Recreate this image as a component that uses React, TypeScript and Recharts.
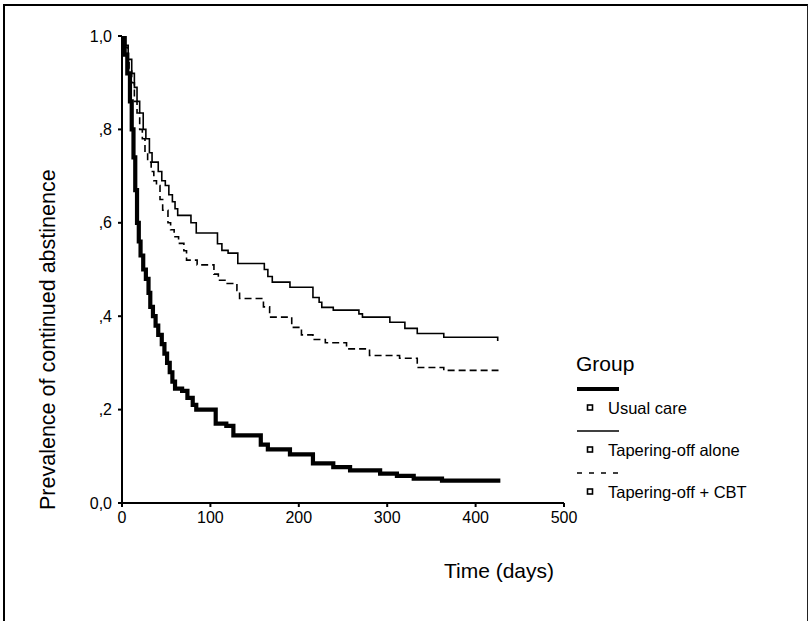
import React from "react";
import { LineChart, Line, XAxis, YAxis, Legend, Label } from "recharts";

// ---- data ----
const xTicks = [0, 100, 200, 300, 400, 500];
const yTicks = [0, 0.2, 0.4, 0.6, 0.8, 1.0];
const yTickLabels = ["0,0", ",2", ",4", ",6", ",8", "1,0"];

const groupNames = ["Usual care", "Tapering-off alone", "Tapering-off + CBT"];

const usualCareT = [0, 3, 6, 9, 11, 13, 15, 17, 19, 21, 24, 27, 30, 32, 35, 38, 41, 45, 48, 51, 54, 57, 60, 68, 74, 80, 84, 106, 118, 126, 157, 165, 190, 216, 239, 258, 292, 311, 330, 362, 428];
const usualCareV = [1.0, 0.96, 0.92, 0.86, 0.8, 0.74, 0.67, 0.6, 0.56, 0.53, 0.5, 0.48, 0.45, 0.42, 0.4, 0.38, 0.36, 0.34, 0.32, 0.3, 0.28, 0.26, 0.245, 0.24, 0.225, 0.21, 0.2, 0.17, 0.165, 0.145, 0.125, 0.115, 0.104, 0.085, 0.077, 0.07, 0.063, 0.058, 0.052, 0.048, 0.048];

const taperT = [0, 4, 7, 11, 14, 17, 20, 24, 27, 31, 34, 41, 45, 49, 53, 57, 60, 63, 78, 84, 108, 113, 120, 131, 161, 165, 170, 190, 216, 223, 226, 239, 268, 272, 303, 320, 334, 364, 425];
const taperV = [1.0, 0.98, 0.95, 0.92, 0.89, 0.86, 0.835, 0.8, 0.78, 0.75, 0.73, 0.71, 0.69, 0.68, 0.66, 0.645, 0.63, 0.616, 0.6, 0.578, 0.555, 0.541, 0.535, 0.513, 0.5, 0.485, 0.473, 0.462, 0.44, 0.43, 0.419, 0.413, 0.405, 0.398, 0.387, 0.374, 0.363, 0.355, 0.347];

const cbtT = [0, 3, 6, 8, 11, 14, 17, 20, 23, 26, 29, 33, 36, 39, 43, 46, 52, 55, 59, 64, 70, 73, 85, 104, 109, 119, 130, 133, 160, 167, 192, 203, 216, 230, 254, 280, 314, 334, 364, 425];
const cbtV = [1.0, 0.976, 0.95, 0.93, 0.9, 0.86, 0.835, 0.8, 0.78, 0.75, 0.73, 0.71, 0.69, 0.68, 0.65, 0.627, 0.6, 0.585, 0.57, 0.556, 0.54, 0.52, 0.51, 0.49, 0.477, 0.47, 0.455, 0.438, 0.42, 0.398, 0.376, 0.36, 0.35, 0.343, 0.33, 0.316, 0.31, 0.29, 0.284, 0.276];

const toRows = (ts: number[], vs: number[]) => ts.map((t, i) => ({ t, v: vs[i] }));
const usualCare = toRows(usualCareT, usualCareV);
const taper = toRows(taperT, taperV);
const cbt = toRows(cbtT, cbtV);

const FONT = "'Liberation Sans', Arial, Helvetica, sans-serif";

const seriesStyles = [
  { width: 4.2, dash: undefined as string | undefined },
  { width: 1.6, dash: undefined as string | undefined },
  { width: 1.6, dash: "7 4" },
];

const LegendBox = () => (
  <svg width={240} height={160} style={{ fontFamily: FONT, display: "block" }}>
    <text x={6} y={21} fontSize={21} fill="#000">Group</text>
    {groupNames.map((name, i) => {
      const base = 39 + i * 42;
      const st = seriesStyles[i];
      return (
        <g key={name}>
          <line x1={7} x2={49} y1={base} y2={base} stroke="#000" strokeWidth={i === 0 ? 4 : 1.6}
            strokeDasharray={i === 2 ? "5 7" : undefined} />
          <rect x={17.5} y={base + 16} width={5} height={5} fill="#fff" stroke="#000" strokeWidth={1.6} />
          <text x={38} y={base + 25} fontSize={16.5} fill="#000">{name}</text>
        </g>
      );
    })}
  </svg>
);

const YTitle = () => (
  <text x={55} y={510} transform="rotate(-90 55 510)" textAnchor="start" fontSize={21.5}
    fontFamily={FONT} fill="#000">Prevalence of continued abstinence</text>
);

const XTitle = () => (
  <text x={499} y={578} textAnchor="middle" fontSize={21} fontFamily={FONT} fill="#000">Time (days)</text>
);

export default function App() {
  return (
    <div style={{ position: "absolute", left: 0, top: 0, width: 811, height: 621, background: "#fff" }}>
      <div style={{ position: "absolute", left: 3, top: 4, width: 802, height: 640,
        borderLeft: "2px solid #000", borderTop: "2px solid #000", borderRight: "1.5px solid #222" }} />
      <LineChart width={811} height={621} margin={{ top: 36, right: 247, left: 62, bottom: 88 }}
        style={{ fontFamily: FONT }}>
        <XAxis dataKey="t" type="number" domain={[0, 500]} ticks={xTicks} height={30}
          axisLine={{ stroke: "#000", strokeWidth: 2 }} tickLine={{ stroke: "#000", strokeWidth: 2 }}
          tickSize={4} tickMargin={5} tick={{ fill: "#000", fontSize: 16, fontFamily: FONT }}
          allowDataOverflow>
          <Label content={XTitle} />
        </XAxis>
        <YAxis type="number" domain={[0, 1]} ticks={yTicks} width={60}
          tickFormatter={(v: number) => yTickLabels[yTicks.indexOf(v)]}
          axisLine={{ stroke: "#000", strokeWidth: 2 }} tickLine={{ stroke: "#000", strokeWidth: 2 }}
          tickSize={4} tickMargin={6} tick={{ fill: "#000", fontSize: 16, fontFamily: FONT }}
          allowDataOverflow>
          <Label content={YTitle} />
        </YAxis>
        <Legend layout="horizontal" verticalAlign="middle" align="center" content={LegendBox}
          wrapperStyle={{ left: 570, top: 350, width: 240, height: 160 }} />
        <Line data={usualCare} dataKey="v" name={groupNames[0]} type="stepAfter" dot={false}
          stroke="#000" strokeWidth={seriesStyles[0].width} isAnimationActive={false} />
        <Line data={taper} dataKey="v" name={groupNames[1]} type="stepAfter" dot={false}
          stroke="#000" strokeWidth={seriesStyles[1].width} isAnimationActive={false} />
        <Line data={cbt} dataKey="v" name={groupNames[2]} type="stepAfter" dot={false}
          stroke="#000" strokeWidth={seriesStyles[2].width} strokeDasharray={seriesStyles[2].dash}
          isAnimationActive={false} />
      </LineChart>
    </div>
  );
}
